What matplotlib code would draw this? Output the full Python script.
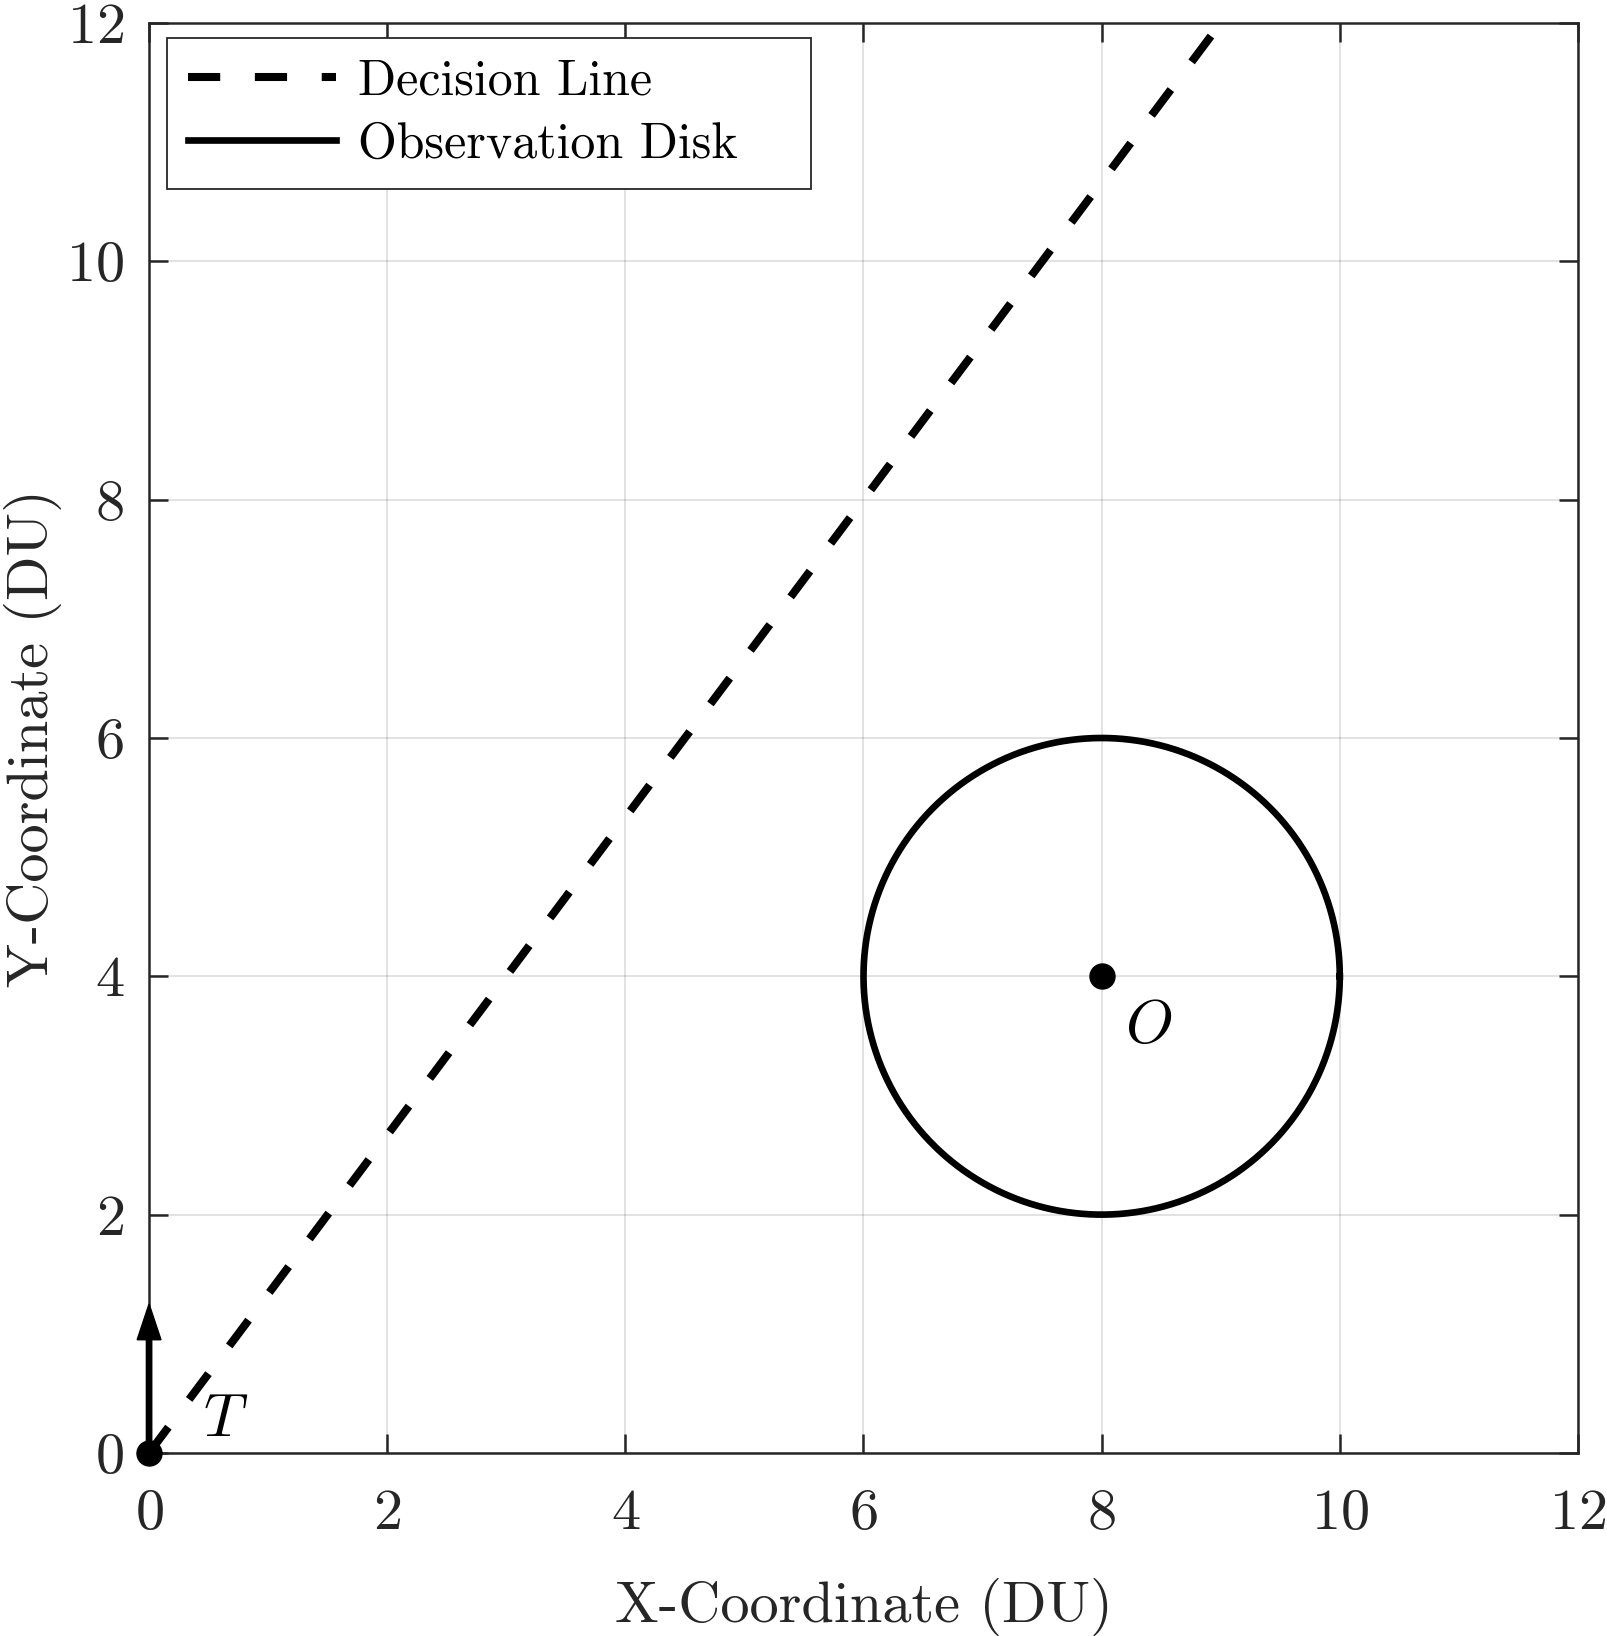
import numpy as np
import matplotlib
matplotlib.use('Agg')
import matplotlib.pyplot as plt

plt.rcParams['font.family'] = 'serif'
plt.rcParams['font.serif'] = ['cmr10']
plt.rcParams['mathtext.fontset'] = 'cm'
plt.rcParams['axes.formatter.use_mathtext'] = True

# scene data
target = (0.0, 0.0)
heading = (0.0, 1.25)
decision_end = (9.0, 12.0)
obs_center = (8.0, 4.0)
obs_radius = 2.0
xticks = [0, 2, 4, 6, 8, 10, 12]
yticks = [0, 2, 4, 6, 8, 10, 12]

fig = plt.figure(figsize=(16.08, 16.36), dpi=100)
ax = fig.add_axes([0.0927, 0.1119, 0.8886, 0.874])

# decision line
ax.plot([target[0], decision_end[0]], [target[1], decision_end[1]],
        color='k', lw=5.8, ls=(0, (4.0, 4.3)), dash_capstyle='butt',
        label='Decision Line', zorder=3)

# observation disk
th = np.linspace(0, 2 * np.pi, 400)
ax.plot(obs_center[0] + obs_radius * np.cos(th),
        obs_center[1] + obs_radius * np.sin(th),
        color='k', lw=4.8, label='Observation Disk', zorder=3)

# heading arrow
ax.arrow(target[0], target[1], heading[0], heading[1], width=0.045,
         head_width=0.2, head_length=0.3, length_includes_head=True,
         color='k', zorder=4, clip_on=False)

ax.plot(*target, 'o', color='k', ms=18, zorder=5, clip_on=False)
ax.plot(*obs_center, 'o', color='k', ms=18, zorder=5)
ax.text(0.45, 0.27, '$T$', fontsize=44, ha='left', va='center')
ax.text(8.2, 3.57, '$O$', fontsize=44, ha='left', va='center')

ax.set_xlim(0, 12)
ax.set_ylim(0, 12)
ax.set_xticks(xticks)
ax.set_yticks(yticks)
ax.grid(True, color='#262626', alpha=0.15, lw=1.3)
ax.set_axisbelow(True)
for s in ax.spines.values():
    s.set_color('#262626')
    s.set_linewidth(1.8)
ax.tick_params(direction='in', length=14, width=1.8, colors='#262626',
               labelsize=42, top=True, right=True)
ax.tick_params(axis='x', pad=26)
ax.tick_params(axis='y', pad=18)
for lab in ax.get_xticklabels() + ax.get_yticklabels():
    lab.set_color('#262626')
ax.set_xlabel('X-Coordinate (DU)', fontsize=42, color='#262626', labelpad=27)
ax.set_ylabel('Y-Coordinate (DU)', fontsize=42, color='#262626', labelpad=3)

leg = ax.legend(loc='upper left', bbox_to_anchor=(0.0126, 0.5, 0.4504, 0.4895),
                mode='expand', borderaxespad=0,
                fontsize=36, frameon=True, fancybox=False, framealpha=1,
                edgecolor='#262626', handlelength=2.95, borderpad=0.42,
                labelspacing=0.34, handletextpad=0.45)
leg.get_frame().set_linewidth(1.3)

fig.savefig('out.png', dpi=100)
